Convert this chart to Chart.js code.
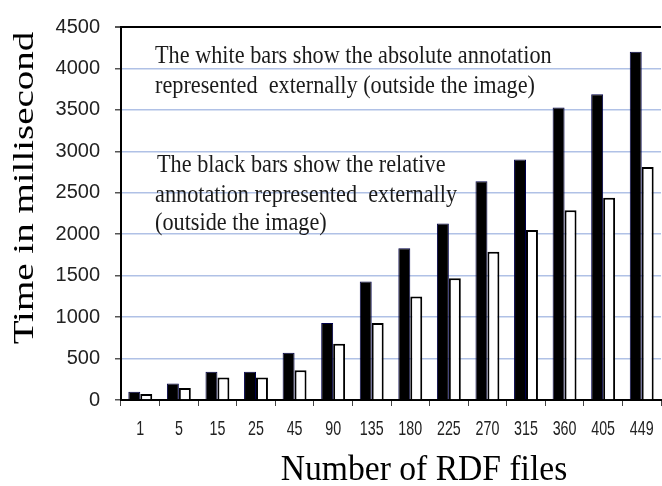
<!DOCTYPE html>
<html>
<head>
<meta charset="utf-8">
<script src="https://cdn.jsdelivr.net/npm/chart.js@4.4.1/dist/chart.umd.min.js"></script>
<style>
  html, body { margin: 0; padding: 0; background: #ffffff; }
  #wrap { width: 662px; height: 486px; }
</style>
</head>
<body>
<div id="wrap"><canvas id="c" width="662" height="486"></canvas></div>
<script>
// ---- data ----
const categories = ['1', '5', '15', '25', '45', '90', '135', '180', '225', '270', '315', '360', '405', '449'];
const blackBars = [99, 200, 340, 340, 570, 930, 1430, 1830, 2130, 2640, 2900, 3530, 3690, 4200];
const whiteBars = [72, 145, 270, 270, 360, 680, 930, 1250, 1470, 1790, 2050, 2290, 2440, 2810];
const yTicks = [0, 500, 1000, 1500, 2000, 2500, 3000, 3500, 4000, 4500];
const xTitle = 'Number of RDF files';
const yTitle = 'Time in millisecond';
const noteLines = [
  'The white bars show the absolute annotation',
  'represented  externally (outside the image)',
  'The black bars show the relative',
  'annotation represented  externally',
  '(outside the image)'
];

const textPlugin = {
  id: 'texts',
  afterDraw(chart) {
    const ctx = chart.ctx;
    // x category labels (narrow, tall type as in the reference)
    const xs = chart.scales.x;
    ctx.save();
    ctx.fillStyle = '#222';
    ctx.font = '21px "Liberation Sans", Arial, sans-serif';
    ctx.textAlign = 'center';
    ctx.textBaseline = 'alphabetic';
    categories.forEach((lab, i) => {
      ctx.save();
      ctx.translate(xs.getPixelForTick(i), 435);
      ctx.scale(0.68, 1);
      ctx.fillText(lab, 0, 0);
      ctx.restore();
    });
    ctx.restore();

    // annotations
    ctx.save();
    ctx.fillStyle = '#1a1a1a';
    ctx.textAlign = 'left';
    ctx.textBaseline = 'alphabetic';
    ctx.font = '25px "Liberation Serif", "Times New Roman", serif';
    const pos = [[155, 63], [155, 93], [157, 172], [155, 202], [155, 230]];
    noteLines.forEach((t, i) => {
      ctx.save();
      ctx.translate(pos[i][0], pos[i][1]);
      ctx.scale(0.89, 1);
      ctx.fillText(t, 0, 0);
      ctx.restore();
    });
    ctx.restore();

    // x title
    ctx.save();
    ctx.fillStyle = '#000';
    ctx.font = '35px "Liberation Serif", "Times New Roman", serif';
    ctx.textAlign = 'center';
    ctx.textBaseline = 'alphabetic';
    ctx.translate(424, 480);
    ctx.scale(0.96, 1);
    ctx.fillText(xTitle, 0, 0);
    ctx.restore();

    // y title
    ctx.save();
    ctx.fillStyle = '#000';
    ctx.font = '39px "Liberation Serif", "Times New Roman", serif';
    ctx.textAlign = 'center';
    ctx.textBaseline = 'alphabetic';
    ctx.translate(33, 188);
    ctx.rotate(-Math.PI / 2);
    ctx.scale(1, 0.77);
    ctx.fillText(yTitle, 0, 0);
    ctx.restore();
  }
};

new Chart(document.getElementById('c'), {
  type: 'bar',
  data: {
    labels: categories,
    datasets: [
      {
        label: 'relative (black)',
        data: blackBars,
        backgroundColor: '#000000',
        borderColor: '#00004a',
        borderWidth: 1,
        categoryPercentage: 0.62,
        barPercentage: 1.0
      },
      {
        label: 'absolute (white)',
        data: whiteBars,
        backgroundColor: '#ffffff',
        borderColor: '#000000',
        borderWidth: 2,
        categoryPercentage: 0.62,
        barPercentage: 1.0
      }
    ]
  },
  options: {
    responsive: false,
    animation: false,
    devicePixelRatio: 1,
    layout: { padding: { top: 23, right: 1, left: 0, bottom: 0 } },
    plugins: {
      legend: { display: false },
      tooltip: { enabled: false },
      title: { display: false }
    },
    scales: {
      x: {
        offset: true,
        border: { display: true, color: '#000', width: 2 },
        grid: {
          display: true,
          drawOnChartArea: false,
          drawTicks: true,
          tickLength: 6,
          offset: true,
          tickColor: '#444',
          lineWidth: 1
        },
        ticks: { display: false, autoSkip: false },
        afterFit(axis) { axis.height = 86; }
      },
      y: {
        min: 0,
        max: 4500,
        border: { display: true, color: '#000', width: 2 },
        afterBuildTicks(axis) { axis.ticks = yTicks.map(v => ({ value: v })); },
        grid: {
          color: (c) => c.tick && c.tick.value === 4500 ? '#000' : '#b0c1e6',
          lineWidth: (c) => c.tick && c.tick.value === 4500 ? 2 : 1.5,
          tickColor: '#555',
          tickLength: 6
        },
        ticks: {
          color: '#222',
          padding: 15,
          callback: (v) => String(v),
          font: { family: '"Liberation Sans", Arial, sans-serif', size: 20 }
        },
        afterFit(axis) { axis.width = 121; }
      }
    }
  },
  plugins: [textPlugin]
});
</script>
</body>
</html>
